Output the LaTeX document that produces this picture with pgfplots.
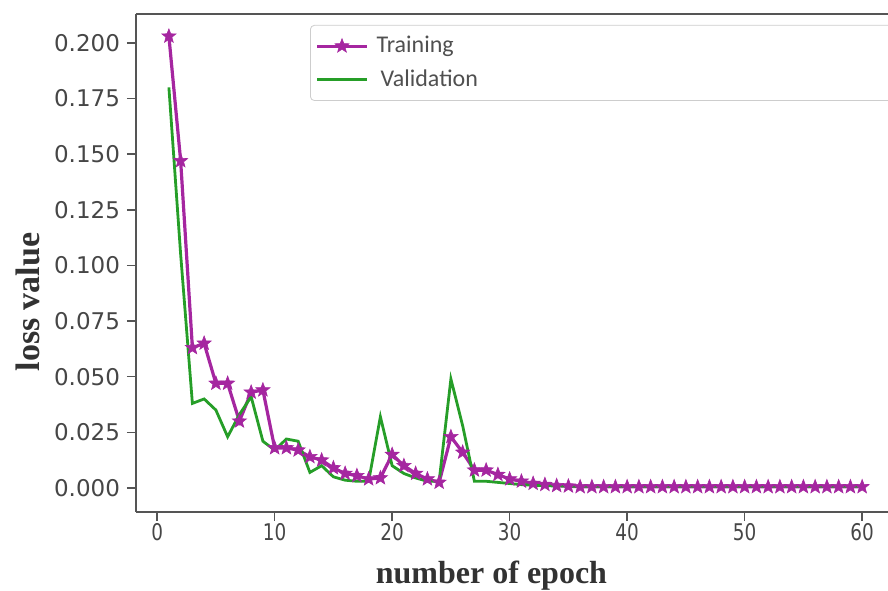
\documentclass[border=0pt]{standalone}
\usepackage{fontspec}
\usepackage{pgfplots}
\pgfplotsset{compat=1.18}
\setmainfont{DejaVu Sans}
\newfontfamily\labelfont{Liberation Serif}
\newfontfamily\legfont{Carlito}
\definecolor{trainc}{RGB}{165,38,160}
\definecolor{valc}{RGB}{38,158,40}
\definecolor{tickc}{RGB}{70,70,70}
\definecolor{spinec}{RGB}{85,85,85}
\definecolor{legborder}{RGB}{205,205,205}
\definecolor{legtext}{RGB}{80,80,80}
\pgfdeclareplotmark{fstar}{%
  \pgfpathmoveto{\pgfpointpolar{90}{\pgfplotmarksize}}%
  \pgfpathlineto{\pgfpointpolar{126}{0.42\pgfplotmarksize}}%
  \pgfpathlineto{\pgfpointpolar{162}{\pgfplotmarksize}}%
  \pgfpathlineto{\pgfpointpolar{198}{0.42\pgfplotmarksize}}%
  \pgfpathlineto{\pgfpointpolar{234}{\pgfplotmarksize}}%
  \pgfpathlineto{\pgfpointpolar{270}{0.42\pgfplotmarksize}}%
  \pgfpathlineto{\pgfpointpolar{306}{\pgfplotmarksize}}%
  \pgfpathlineto{\pgfpointpolar{342}{0.42\pgfplotmarksize}}%
  \pgfpathlineto{\pgfpointpolar{18}{\pgfplotmarksize}}%
  \pgfpathlineto{\pgfpointpolar{54}{0.42\pgfplotmarksize}}%
  \pgfpathclose
  \pgfusepathqfillstroke
}
\pgfplotstableread{
e v
1 0.203
2 0.147
3 0.063
4 0.065
5 0.047
6 0.047
7 0.030
8 0.043
9 0.044
10 0.018
11 0.018
12 0.017
13 0.014
14 0.0125
15 0.009
16 0.0065
17 0.0055
18 0.004
19 0.0045
20 0.015
21 0.010
22 0.0065
23 0.004
24 0.0025
25 0.023
26 0.016
27 0.008
28 0.008
29 0.006
30 0.004
31 0.003
32 0.002
33 0.0015
34 0.001
35 0.0008
36 0.0005
37 0.0005
38 0.0005
39 0.0005
40 0.0005
41 0.0005
42 0.0005
43 0.0005
44 0.0005
45 0.0005
46 0.0005
47 0.0005
48 0.0005
49 0.0005
50 0.0005
51 0.0005
52 0.0005
53 0.0005
54 0.0005
55 0.0005
56 0.0005
57 0.0005
58 0.0005
59 0.0005
60 0.0005
}\train
\pgfplotstableread{
e v
1 0.180
2 0.105
3 0.038
4 0.040
5 0.035
6 0.023
7 0.033
8 0.041
9 0.021
10 0.017
11 0.022
12 0.021
13 0.007
14 0.010
15 0.005
16 0.0035
17 0.003
18 0.003
19 0.032
20 0.010
21 0.0065
22 0.0045
23 0.003
24 0.003
25 0.049
26 0.028
27 0.003
28 0.003
29 0.0025
30 0.002
31 0.0015
32 0.0012
33 0.001
34 0.0009
35 0.0008
36 0.0008
37 0.0008
38 0.0008
39 0.0008
40 0.0008
41 0.0008
42 0.0008
43 0.0008
44 0.0008
45 0.0008
46 0.0008
47 0.0008
48 0.0008
49 0.0008
50 0.0008
51 0.0008
52 0.0008
53 0.0008
54 0.0008
55 0.0008
56 0.0008
57 0.0008
58 0.0008
59 0.0008
60 0.0008
}\valid
\begin{document}
\begin{tikzpicture}
\begin{axis}[
  scale only axis,
  width=376pt, height=249pt,
  xmin=-1.8, xmax=62.2,
  ymin=-0.0108, ymax=0.2130,
  axis x line=box, axis y line=left,
  axis line style={-, color=spinec, line width=1pt},
  tick pos=left,
  tick align=outside,
  major tick length=4.5pt,
  tick style={color=spinec, line width=0.8pt},
  xtick={0,10,...,60},
  ytick={0,0.025,0.05,0.075,0.1,0.125,0.15,0.175,0.2},
  yticklabels={0.000,0.025,0.050,0.075,0.100,0.125,0.150,0.175,0.200},
  scaled y ticks=false,
  /pgf/number format/assume math mode=true,
  ticklabel style={font=\fontsize{11.5}{13}\selectfont, color=tickc},
  xticklabel style={xscale=0.8, yshift=2.5pt},
  xlabel={number of epoch},
  ylabel={loss value},
  label style={font=\labelfont\bfseries\fontsize{16}{18}\selectfont, color={rgb,255:red,50;green,50;blue,50}},
  xlabel style={at={(axis description cs:0.4727,-0.1285)}, anchor=center},
  ylabel style={at={(axis description cs:-0.1436,0.4217)}, anchor=center, font=\labelfont\bfseries\fontsize{17}{19}\selectfont},
  legend style={at={(axis description cs:0.2314,0.978)}, anchor=north west,
    font=\legfont\fontsize{12}{14}\selectfont, text=legtext,
    draw=legborder, rounded corners=2pt, fill=white,
    inner xsep=2.5pt, inner ysep=3.5pt, row sep=3pt,
    /tikz/every even column/.append style={column sep=0pt}},
  legend cell align=left,
  legend image code/.code={\draw[mark repeat=2,mark phase=2,#1] plot coordinates {(0pt,0pt) (12.5pt,0pt) (25pt,0pt)};},
]
\addplot[color=trainc, line width=1.6pt, mark=fstar, mark size=3.7pt, mark options={solid, line width=0.3pt}] table[x=e, y=v] {\train};
\addlegendentry{\makebox[260pt][l]{\hspace{2pt}Training}}
\addplot[color=valc, line width=1.4pt] table[x=e, y=v] {\valid};
\addlegendentry{\makebox[260pt][l]{\hspace{4pt}Validation}}
\coordinate (BL) at (rel axis cs:0,0);
\coordinate (TR) at (rel axis cs:1,1);
\end{axis}
\pgfresetboundingbox
\path[use as bounding box] ([xshift=-68pt,yshift=-39.5pt]BL) rectangle ([yshift=7pt]TR);
\end{tikzpicture}
\end{document}
